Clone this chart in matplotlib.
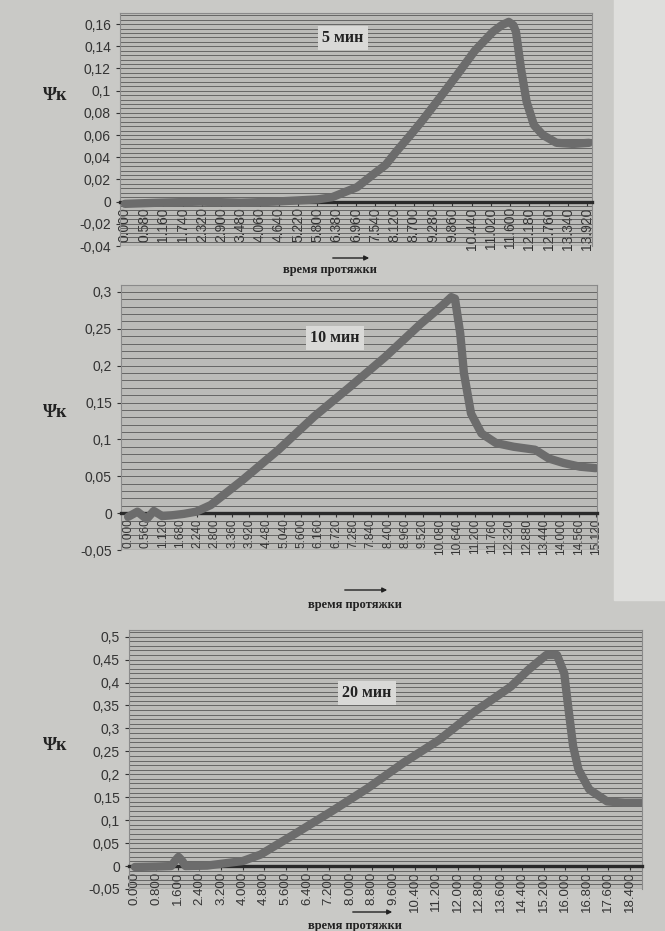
import numpy as np
import matplotlib
matplotlib.use("Agg")
import matplotlib.pyplot as plt
from matplotlib.ticker import MultipleLocator, FixedLocator, FixedFormatter
from matplotlib.patches import Rectangle, FancyArrowPatch

W, H = 665, 931

# ---- data ----
x1 = [0.0, 1.0, 2.26, 3.5, 4.5, 5.16, 5.8, 6.24, 6.99, 7.5, 7.85, 8.17, 8.6, 8.93, 9.47,
      10.0, 10.54, 11.08, 11.35, 11.56, 11.7, 11.78, 11.93, 12.1, 12.32, 12.59, 13.0, 13.5, 13.98]
y1 = [-0.002, -0.001, 0.0, -0.001, 0.0, 0.001, 0.002, 0.004, 0.013, 0.025, 0.033, 0.045, 0.06,
      0.072, 0.093, 0.114, 0.136, 0.153, 0.159, 0.162, 0.159, 0.153, 0.12, 0.09, 0.069, 0.06,
      0.053, 0.052, 0.053]

x2 = [0.0, 0.3, 0.6, 0.83, 1.1, 1.4, 1.8, 2.2, 2.67, 3.7, 4.86, 6.01, 7.16, 8.31, 9.46, 10.16,
      10.44, 10.56, 10.73, 10.85, 11.08, 11.42, 11.89, 12.46, 13.15, 13.6, 14.07, 14.6, 15.11]
y2 = [-0.005, 0.002, -0.008, 0.003, -0.004, -0.003, -0.001, 0.002, 0.011, 0.045, 0.086, 0.131,
      0.171, 0.212, 0.257, 0.282, 0.293, 0.291, 0.244, 0.19, 0.135, 0.108, 0.095, 0.09, 0.086,
      0.074, 0.068, 0.063, 0.061]

x3 = [0.0, 0.8, 1.35, 1.5, 1.62, 1.75, 1.88, 2.68, 4.01, 4.67, 6.0, 7.33, 8.66, 9.98, 11.31,
      12.64, 13.97, 14.63, 15.29, 15.69, 15.96, 16.09, 16.29, 16.49, 16.89, 17.55, 18.2, 18.85]
y3 = [-0.002, -0.001, 0.0, 0.012, 0.02, 0.012, 0.0, 0.001, 0.011, 0.025, 0.072, 0.12, 0.17,
      0.225, 0.275, 0.337, 0.391, 0.428, 0.46, 0.46, 0.42, 0.355, 0.261, 0.21, 0.167, 0.141,
      0.138, 0.138]

xt1 = [i * 0.58 for i in range(25)]
xt2 = [i * 0.56 for i in range(28)]
xt3 = [i * 0.8 for i in range(24)]

yt1 = [-0.04, -0.02, 0, 0.02, 0.04, 0.06, 0.08, 0.1, 0.12, 0.14, 0.16]
yl1 = ["-0,04", "-0,02", "0", "0,02", "0,04", "0,06", "0,08", "0,1", "0,12", "0,14", "0,16"]
yt2 = [-0.05, 0, 0.05, 0.1, 0.15, 0.2, 0.25, 0.3]
yl2 = ["-0,05", "0", "0,05", "0,1", "0,15", "0,2", "0,25", "0,3"]
yt3 = [-0.05, 0, 0.05, 0.1, 0.15, 0.2, 0.25, 0.3, 0.35, 0.4, 0.45, 0.5]
yl3 = ["-0,05", "0", "0,05", "0,1", "0,15", "0,2", "0,25", "0,3", "0,35", "0,4", "0,45", "0,5"]

titles = ["5 мин", "10 мин", "20 мин"]
xlabel = "время протяжки"
ylabel = "Ψк"

bg = "#c9c9c6"
plot_bg = "#bbbbb8"
curve_c = "#6c6c6c"
grid_c = "#505050"

fig = plt.figure(figsize=(W / 100, H / 100), dpi=100, facecolor=bg)
# lighter page strip on the right
fig.patches.append(Rectangle((614 / W, 1 - 600 / H), 1, 1, transform=fig.transFigure,
                             color="#dededc", zorder=-5))


def px_rect(l, t, r, b):
    return [l / W, 1 - b / H, (r - l) / W, (b - t) / H]


def fpt(x, y):
    return (x / W, 1 - y / H)


def make_chart(rect, x, y, xt, xfs, yt, yl, ylim, xlim, minor):
    ax = fig.add_axes(rect)
    ax.set_facecolor(plot_bg)
    # category axis crosses at zero, labels sit just under it
    ax.spines["bottom"].set_position(("data", 0))
    ax.spines["bottom"].set_color("#2a2a2a")
    ax.spines["bottom"].set_linewidth(2.4)
    for s in ("top", "right", "left"):
        ax.spines[s].set_color("#8a8a8a")
    ax.set_xlim(*xlim)
    ax.set_ylim(*ylim)
    ax.yaxis.set_major_locator(FixedLocator(yt))
    ax.yaxis.set_major_formatter(FixedFormatter(yl))
    ax.yaxis.set_minor_locator(MultipleLocator(minor))
    ax.grid(which="both", axis="y", color=grid_c, lw=0.7, alpha=0.8)
    ax.set_axisbelow(True)
    ax.set_xticks(xt)
    ax.set_xticklabels([f"{v:.3f}" for v in xt], rotation=90, fontsize=xfs,
                       family="Liberation Sans", color="#333333")
    ax.tick_params(axis="y", labelsize=10, length=3, colors="#333333", which="major")
    ax.tick_params(axis="y", which="minor", length=0)
    ax.tick_params(axis="x", length=3, pad=1, colors="#333333")
    for lab in ax.get_yticklabels():
        lab.set_family("Liberation Sans")
    ax.axhline(ylim[0], color="#8a8a8a", lw=1)
    ax.plot(x, y, color=curve_c, lw=6, solid_capstyle="round", solid_joinstyle="round", zorder=3)
    return ax


make_chart(px_rect(120, 13, 592, 246), x1, y1, xt1, 10, yt1, yl1, (-0.04, 0.17), (-0.15, 14.07), 0.004)
make_chart(px_rect(121, 284.6, 597, 550), x2, y2, xt2, 8.5, yt2, yl2, (-0.05, 0.31), (-0.23, 15.15), 0.01)
make_chart(px_rect(129, 629.8, 642, 889), x3, y3, xt3, 9.5, yt3, yl3, (-0.05, 0.515), (-0.22, 18.85), 0.01)

serif = ["Liberation Serif", "DejaVu Serif"]
for (tx, ty), t in zip([(343, 38), (335, 338), (367, 693)], titles):
    fig.text(*fpt(tx, ty), t, ha="center", va="center", fontsize=11.5, fontweight="bold",
             family=serif, color="#222222",
             bbox=dict(boxstyle="square,pad=0.25", fc="#d9d9d7", ec="none"))

for yy in (96, 413, 746):
    fig.text(*fpt(55, yy), ylabel, ha="center", va="center", fontsize=13, fontweight="bold",
             family=serif, color="#222222")

for (tx, ty), (a0, a1, ay) in zip([(330, 270), (355, 605), (355, 926)],
                                  [(330, 372, 258), (342, 390, 590), (350, 395, 912)]):
    fig.text(*fpt(tx, ty), xlabel, ha="center", va="center", fontsize=9, fontweight="bold",
             family=serif, color="#222222")
    fig.patches.append(FancyArrowPatch(fpt(a0, ay), fpt(a1, ay), transform=fig.transFigure,
                                       arrowstyle="-|>", mutation_scale=7, color="#222222", lw=1))

fig.savefig("out.png", dpi=100, facecolor=bg)
